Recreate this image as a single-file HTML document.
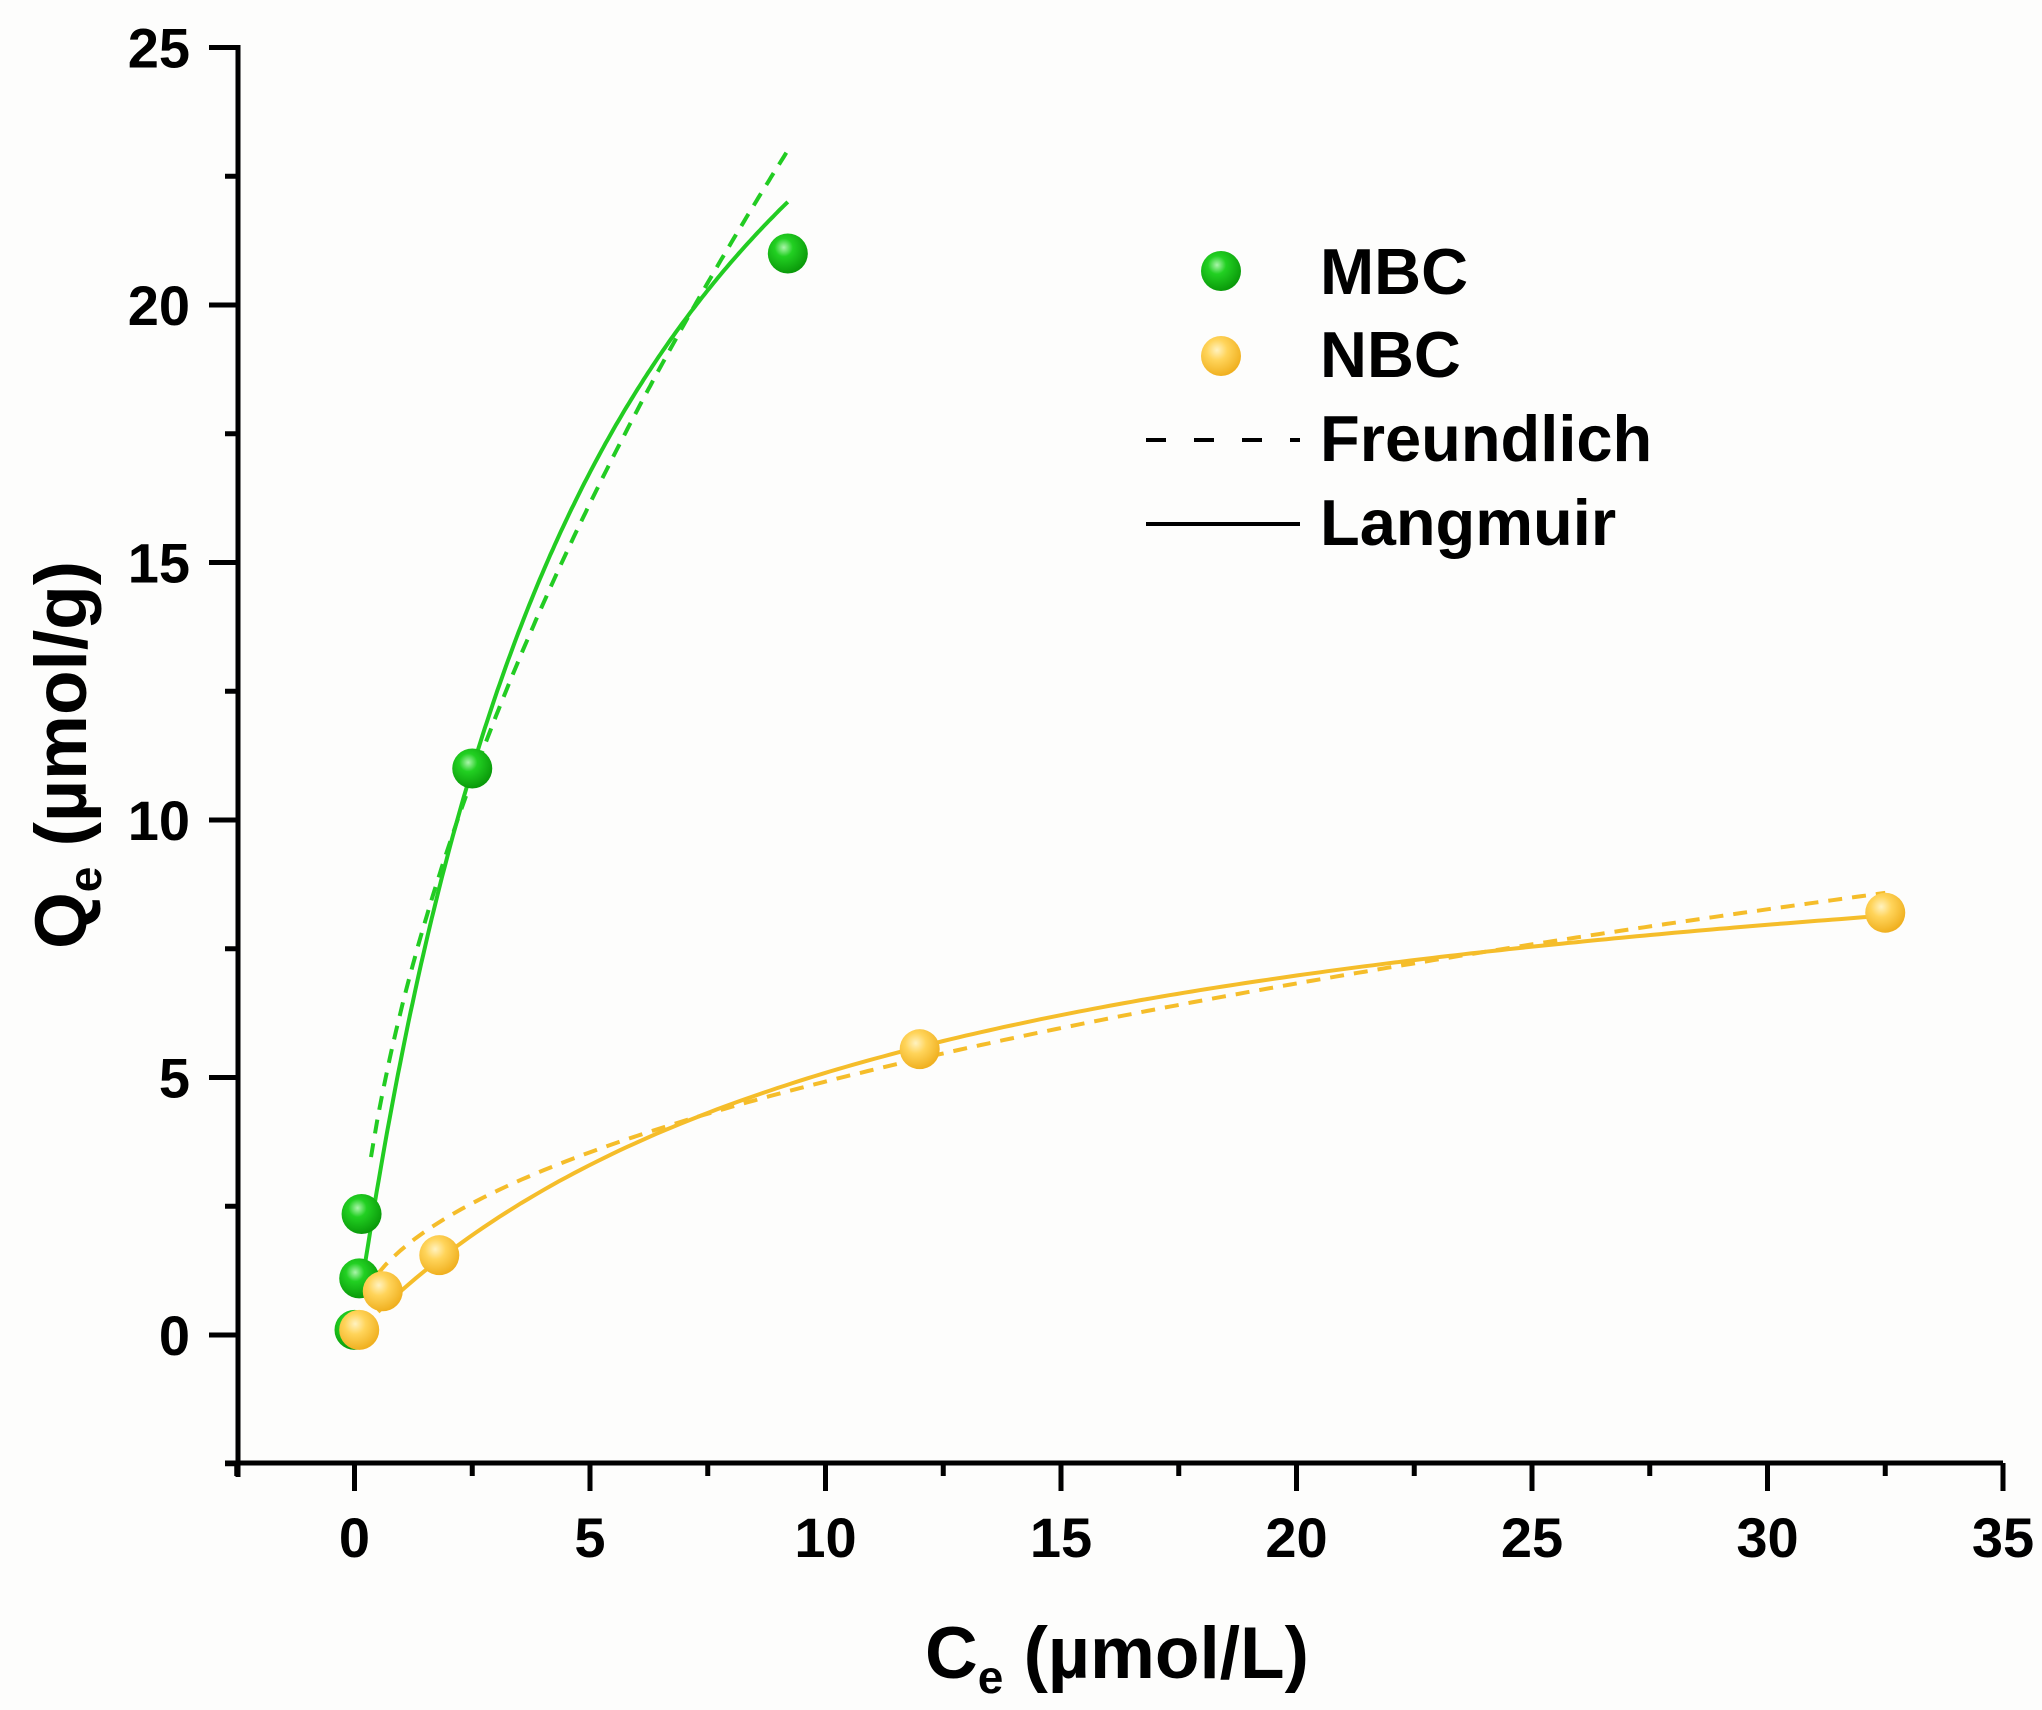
<!DOCTYPE html>
<html><head><meta charset="utf-8"><style>
html,body{margin:0;padding:0;background:#fdfdfc;}
svg{display:block;}
text{font-family:"Liberation Sans",sans-serif;font-weight:bold;fill:#000;}
</style></head><body>
<svg id="s" width="2042" height="1710" viewBox="0 0 2042 1710" xmlns="http://www.w3.org/2000/svg">
<defs>
<radialGradient id="gg" cx="0.4" cy="0.35" r="0.65">
<stop offset="0" stop-color="#aaf5aa"/><stop offset="0.35" stop-color="#22d022"/><stop offset="1" stop-color="#0a9a0a"/></radialGradient>
<radialGradient id="gy" cx="0.4" cy="0.35" r="0.65">
<stop offset="0" stop-color="#fff2c0"/><stop offset="0.4" stop-color="#ffd45a"/><stop offset="1" stop-color="#f0b020"/></radialGradient>
</defs>
<g id="axes" stroke="#000" stroke-width="5" fill="none"></g>
<g id="curves" fill="none" stroke-width="4"></g>
<g id="pts"></g>
<g id="lbl" font-size="56"></g>
<text x="0" y="0" font-size="73" transform="translate(86,755) rotate(-90)" text-anchor="middle">Q<tspan font-size="46" dy="15">e</tspan><tspan dy="-15"> (µmol/g)</tspan></text>
<text x="1117" y="1678" font-size="73" text-anchor="middle">C<tspan font-size="46" dy="15">e</tspan><tspan dy="-15"> (µmol/L)</tspan></text>
<circle cx="1221" cy="271" r="20" fill="url(#gg)"/>
<circle cx="1221" cy="356" r="20" fill="url(#gy)"/>
<text x="1320" y="294" font-size="65">MBC</text>
<text x="1320" y="377" font-size="65">NBC</text>
<text x="1320" y="461" font-size="65">Freundlich</text>
<text x="1320" y="545" font-size="65">Langmuir</text>
<line x1="1146" y1="440" x2="1300" y2="440" stroke="#000" stroke-width="4" stroke-dasharray="20 28"/>
<line x1="1146" y1="524" x2="1300" y2="524" stroke="#000" stroke-width="4"/>
</svg>
<script>
var NS="http://www.w3.org/2000/svg";
function X(c){return 354.5+c*47.1;}
function Y(q){return 1335-q*51.5;}
function el(p,t,a,txt){var e=document.createElementNS(NS,t);for(var k in a)e.setAttribute(k,a[k]);if(txt!=null)e.textContent=txt;document.getElementById(p).appendChild(e);return e;}
el("axes","line",{x1:238,y1:45,x2:238,y2:1477});
el("axes","line",{x1:225,y1:1463,x2:2003,y2:1463});
for(var v=-2.5;v<=25.01;v+=2.5){var y=Y(v);var maj=Math.abs(v%5)<0.01;el("axes","line",{x1:maj?209:225,y1:y,x2:238,y2:y});if(maj)el("lbl","text",{x:190,y:y+20,"text-anchor":"end"},String(v));}
for(var c=-2.5;c<=35.01;c+=2.5){var x=X(c);var maj=Math.abs(c%5)<0.01;el("axes","line",{x1:x,y1:1463,x2:x,y2:maj?1491:1476});if(maj)el("lbl","text",{x:x,y:1557,"text-anchor":"middle"},String(c));}
function path(f,a,b,col,dash){var d="";for(var i=0;i<=200;i++){var c=a+(b-a)*i/200;d+=(i?"L":"M")+X(c).toFixed(1)+","+Y(f(c)).toFixed(1);}var o={d:d,stroke:col};if(dash)o["stroke-dasharray"]="14 10";el("curves","path",o);}
var G="#22cc22",O="#f5bd2a";
path(function(c){return 35.1*0.1826*c/(1+0.1826*c);},0.2,9.2,G);
path(function(c){return 6.35*Math.pow(c,0.58);},0.35,9.2,G,1);
path(function(c){return 11.1*0.0847*c/(1+0.0847*c);},0.5,32.5,O);
path(function(c){return 1.66*Math.pow(c,0.472);},0.5,32.5,O,1);
var mb=[[0,0.1],[0.1,1.1],[0.15,2.35],[2.5,11],[9.2,21]];
var nb=[[0.1,0.1],[0.6,0.85],[1.8,1.55],[12,5.55],[32.5,8.2]];
mb.forEach(function(p){el("pts","circle",{cx:X(p[0]),cy:Y(p[1]),r:20,fill:"url(#gg)"});});
nb.forEach(function(p){el("pts","circle",{cx:X(p[0]),cy:Y(p[1]),r:20,fill:"url(#gy)"});});
</script>
</body></html>
